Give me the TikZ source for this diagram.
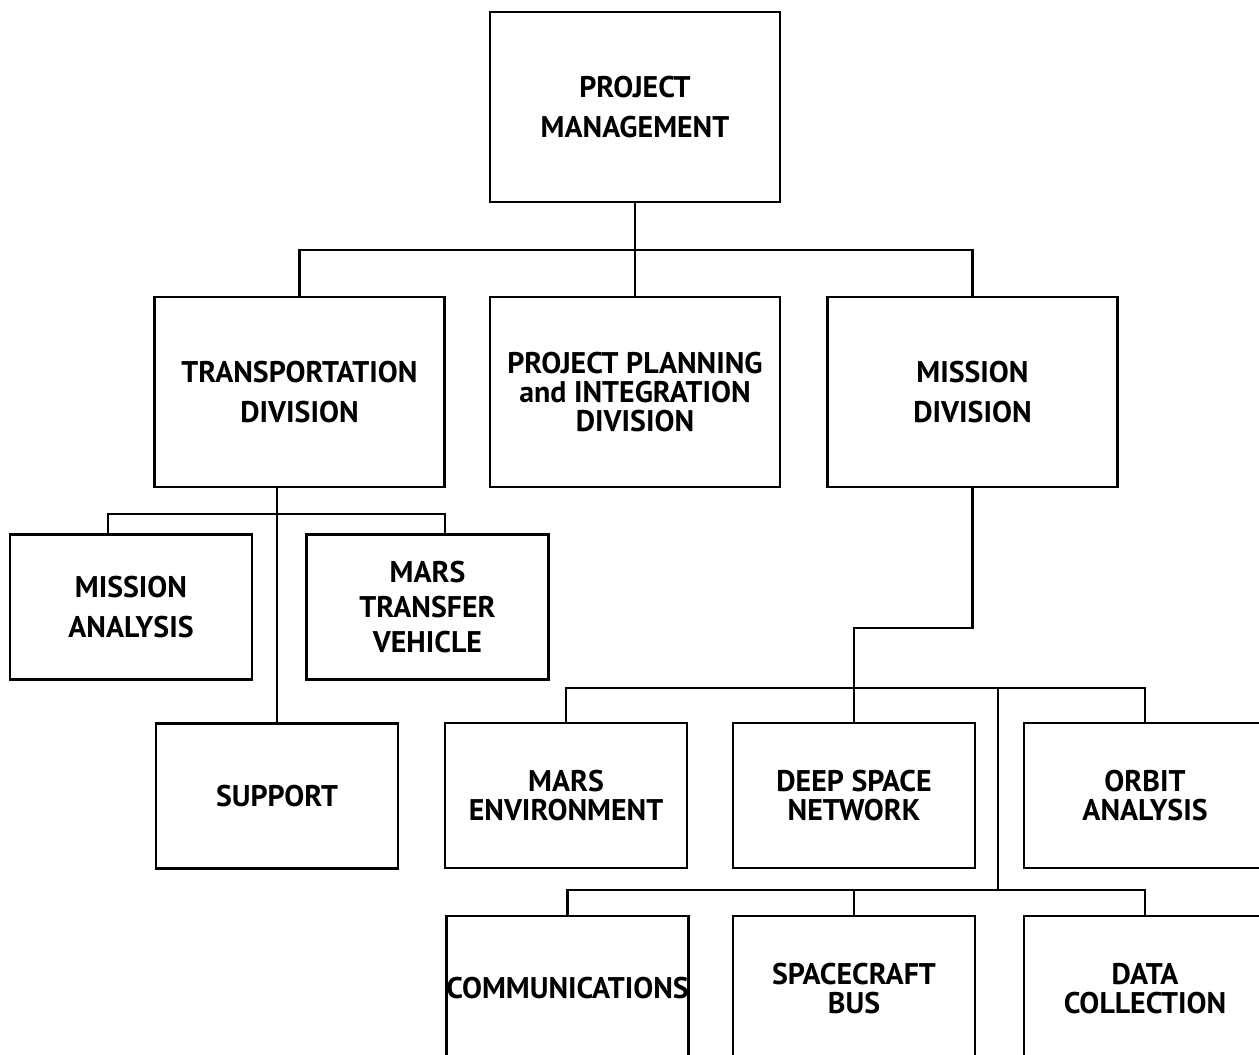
\documentclass[tikz,border=0pt]{standalone}
\usepackage{fontspec}
\setmainfont{PT Sans}
\begin{document}
\begin{tikzpicture}[x=0.02cm,y=-0.02cm,line width=1.6pt]
  \tikzstyle{unit}=[rectangle,draw=black,minimum width=4.84cm,minimum height=2.9cm,
                    inner sep=0pt,align=center,font=\bfseries\fontsize{17}{16.5}\selectfont]
  \tikzstyle{division}=[unit,minimum width=5.8cm,minimum height=3.8cm]
  \useasboundingbox (0,0) rectangle (1259,1055);
  \clip (0,0) rectangle (1259,1055);
  % top level
  \node [division] (pm)  at (635,107)   {PROJECT\\[6pt]MANAGEMENT};
  \node [division] (td)  at (299.5,392) {TRANSPORTATION\\[6pt]DIVISION};
  \node [division] (pp)  at (635,392)   {PROJECT PLANNING\\and INTEGRATION\\DIVISION};
  \node [division] (md)  at (972.5,392) {MISSION\\[6pt]DIVISION};
  % transportation
  \node [unit] (ma)  at (131,607)   {MISSION\\[6pt]ANALYSIS};
  \node [unit] (mtv) at (427.5,607) {MARS\\[3.5pt]TRANSFER\\[3.5pt]VEHICLE};
  \node [unit] (sup) at (277,796)   {SUPPORT};
  % mission
  \node [unit] (me)  at (566,795.5)  {MARS\\ENVIRONMENT};
  \node [unit] (dsn) at (854,795.5)  {DEEP SPACE\\NETWORK};
  \node [unit] (orb) at (1145,795.5) {ORBIT\\ANALYSIS};
  \node [unit] (com) at (567.5,988.5) {COMMUNICATIONS};
  \node [unit] (sb)  at (854,988.5)   {SPACECRAFT\\BUS};
  \node [unit] (dc)  at (1145,988.5)  {DATA\\COLLECTION};
  % connectors
  \coordinate (top bus) at (635,250);
  \draw (pm.south) -- (pp.north);
  \draw (td.north) |- (top bus) -| (md.north);
  \coordinate (td bus) at (277,514);
  \draw (sup.north |- td.south) -- (sup.north);
  \draw ([xshift=-0.46cm]ma.north) |- (td bus) -| ([xshift=0.35cm]mtv.north);
  \coordinate (md step) at (972.5,628);
  \draw (md.south) -- (md step) -| (dsn.north);
  \coordinate (mid bus) at (998,688);
  \draw (me.north) |- (mid bus) -| (orb.north);
  \coordinate (low bus) at (998,890);
  \draw (mid bus) -- (low bus);
  \draw (com.north) |- (low bus) -| (dc.north);
  \draw (sb.north) -- (sb.north |- low bus);
\end{tikzpicture}
\end{document}
